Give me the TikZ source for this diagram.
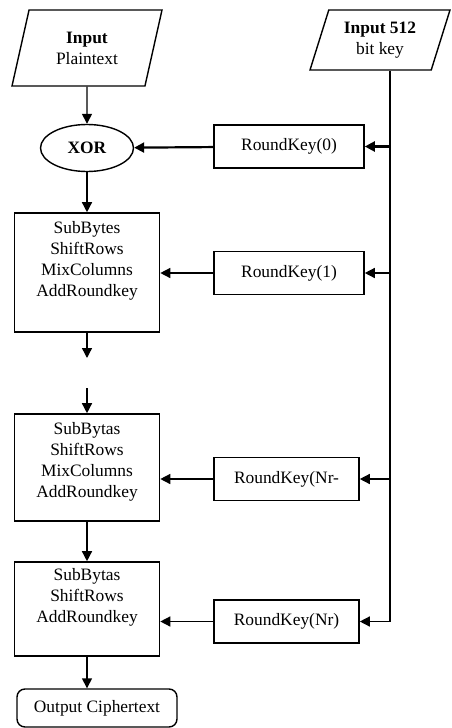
\documentclass[tikz,border=0pt]{standalone}
\usepackage{fontspec}
\setmainfont{Liberation Serif}
\usetikzlibrary{shapes.geometric, arrows.meta, positioning}

\begin{document}
\begin{tikzpicture}[
    x=0.5pt, y=-0.5pt,
    font=\fontsize{8.7}{10.5}\selectfont,
    io/.style={trapezium, trapezium left angle=65, trapezium right angle=115, trapezium stretches body, draw, line width=0.7pt, align=center, inner sep=1pt},
    stage/.style={rectangle, draw, line width=0.8pt, minimum width=72.5pt, align=center, inner sep=2pt},
    keybox/.style={rectangle, draw, line width=0.8pt, minimum width=75pt, minimum height=21.5pt},
    arrow/.style={-{Triangle[length=5pt, width=5pt]}, line width=0.7pt},
    thickarrow/.style={arrow, line width=1.1pt}
]
    \useasboundingbox (0,0) rectangle (451,728);

    \node[io, minimum width=75pt, minimum height=38pt] (plain) at (87,48) {\textbf{Input}\\Plaintext};
    \node[io, minimum width=70pt, minimum height=30pt] (key) at (380,40) {\textbf{Input 512}\\bit key};
    \node[ellipse, draw, line width=0.7pt, minimum width=46.5pt, minimum height=23.5pt] (xor) at (87,148) {\textbf{XOR}};

    \node[stage, minimum height=59.5pt] (round1) at (87,272.5) {SubBytes\\ShiftRows\\MixColumns\\AddRoundkey\\\strut};
    \node[stage, minimum height=53.5pt] (round2) at (87,467.5) {SubBytas\\ShiftRows\\MixColumns\\AddRoundkey\\[-6.5pt]\strut};
    \node[stage, minimum height=47pt] (round3) at (87,609) {SubBytas\\ShiftRows\\AddRoundkey\\\strut};
    \node[rectangle, rounded corners=4pt, draw, line width=0.7pt, minimum width=80pt, minimum height=19pt] (out) at (97,708) {Output Ciphertext};

    \node[keybox] (rk0) at (289,146.5) {RoundKey(0)};
    \node[keybox] (rk1) at (289,273) {RoundKey(1)};
    \node[keybox, minimum width=72.5pt] (rknm) at (286.5,479) {RoundKey(Nr-};
    \node[keybox, minimum width=72.5pt] (rkn) at (286.5,621.5) {RoundKey(Nr)};

    \coordinate (gapa) at (87,358);
    \coordinate (gapb) at (87,388);
    \coordinate (keyline) at (390,623);

    % main column
    \draw[arrow] (plain) -- (xor);
    \draw[arrow] (xor) -- (round1);
    \draw[arrow] (round1) -- (gapa);
    \draw[arrow] (gapb) -- (round2);
    \draw[arrow] (round2) -- (round3);
    \draw[arrow] (round3) -- (round3 |- out.north);

    % key schedule
    \draw[arrow] (key.south -| keyline) |- (rkn.east);
    \draw[thickarrow] (rk0.east -| keyline) -- (rk0);
    \draw[thickarrow] (rk0) -- (xor);
    \draw[arrow] (rk1.east -| keyline) -- (rk1);
    \draw[arrow] (rk1.west) -- (rk1.west -| round1.east);
    \draw[arrow] (rknm.east -| keyline) -- (rknm);
    \draw[arrow] (rknm.west) -- (rknm.west -| round2.east);
    \draw[arrow] (rkn.west) -- (rkn.west -| round3.east);
\end{tikzpicture}
\end{document}
